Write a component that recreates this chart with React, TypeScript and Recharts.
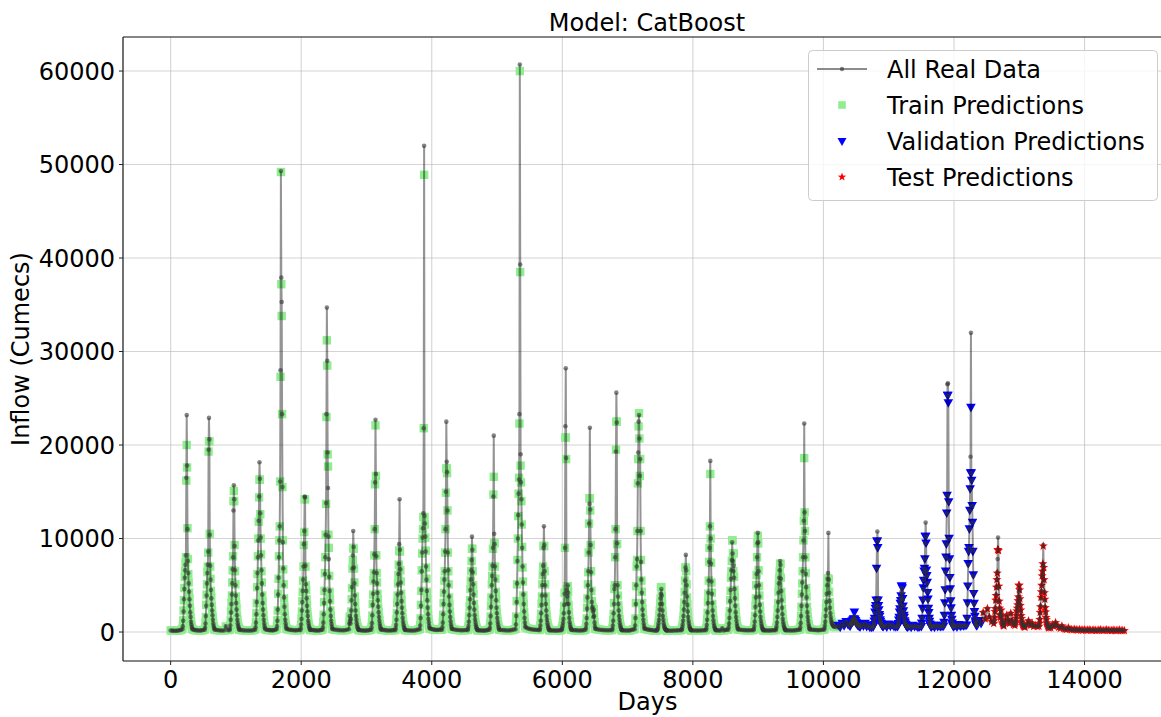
import React from 'react';
import { ScatterChart, Scatter, XAxis, YAxis, CartesianGrid, ReferenceLine, Legend } from 'recharts';

const FONT = '"DejaVu Sans", "Liberation Sans", sans-serif';

// ---------- axes ----------
const xTicks = [0, 2000, 4000, 6000, 8000, 10000, 12000, 14000];
const yTicks = [0, 10000, 20000, 30000, 40000, 50000, 60000];
const X_DOMAIN: [number, number] = [-730, 15340];
const Y_DOMAIN: [number, number] = [-3100, 63640];

const TITLE = 'Model: CatBoost';
const X_LABEL = 'Days';
const Y_LABEL = 'Inflow (Cumecs)';
const legendLabels = ['All Real Data', 'Train Predictions', 'Validation Predictions', 'Test Predictions'];

// ---------- data ----------
const TRAIN_END = 10227;
const VAL_END = 12418;
const LAST_DAY = 14610;
const WET_STEP = 6;

// first day of each flood-season window
const wetStarts = [180, 521, 902, 1295, 1623, 1987, 2327, 2731, 3072, 3441, 3817, 4157, 4550, 4884, 5283, 5652, 5987, 6356, 6762, 7109, 7451, 7826, 8201, 8542, 8929, 9270, 9640, 10010, 10408, 10760, 11136, 11500, 11841, 12194, 12609, 12933, 13302];

// observed inflow in each flood window (every 6 days)
const wetReal: number[][] = [
  [300, 600, 1200, 2200, 3500, 4600, 5800, 6600, 7200, 8200, 16500, 23200, 17800, 11000, 7600, 6300, 5200, 4300, 3500, 2800, 2100, 1600, 1100, 800, 550, 380],
  [250, 450, 900, 1700, 2800, 3900, 5200, 6300, 7200, 8600, 19500, 22900, 20600, 10400, 7100, 5600, 4500, 3600, 2900, 2300, 1800, 1300, 900, 650, 450, 320],
  [200, 350, 700, 1300, 2100, 3000, 4000, 5200, 6700, 8000, 13000, 15700, 14200, 9200, 6600, 5000, 3900, 3100, 2400, 1800, 1300, 950, 700, 500, 350, 250],
  [250, 500, 1000, 1900, 3200, 4700, 6300, 8000, 9800, 11900, 14500, 18150, 16400, 12700, 10100, 8200, 6600, 5200, 4000, 3100, 2400, 1800, 1300, 900, 600, 400],
  [300, 600, 1200, 2400, 4000, 5800, 8000, 9800, 11300, 16100, 28000, 49300, 37900, 35300, 23300, 15500, 9600, 6800, 5000, 3700, 2700, 1900, 1300, 900, 600, 400],
  [200, 400, 800, 1400, 2300, 3200, 4400, 5600, 7000, 9400, 10800, 14500, 14400, 7100, 5100, 4400, 3600, 2800, 2200, 1700, 1200, 900, 650, 450, 320, 220],
  [250, 500, 1000, 1900, 3100, 4500, 6200, 8000, 10400, 13800, 23300, 34700, 29000, 19200, 15400, 10200, 7800, 5900, 4400, 3300, 2400, 1700, 1200, 850, 550, 350],
  [300, 900, 1700, 1200, 900, 1400, 2300, 3400, 4800, 6800, 8200, 10800, 9100, 6900, 5200, 3900, 3000, 2300, 1700, 1300, 950, 700, 500, 380, 280, 220],
  [250, 500, 950, 1800, 2900, 4100, 5400, 6400, 8300, 11000, 16000, 22700, 16900, 8100, 6300, 5200, 4200, 3400, 2700, 2100, 1600, 1200, 850, 600, 400, 280],
  [200, 400, 750, 1300, 2100, 3000, 4000, 5100, 6200, 7300, 9400, 14200, 8800, 6700, 5300, 4200, 3300, 2600, 2000, 1500, 1100, 800, 580, 420, 300, 220],
  [300, 700, 1500, 2800, 4500, 6500, 8500, 10100, 11100, 12700, 21800, 52000, 12400, 11600, 10200, 8600, 7000, 5600, 4400, 3400, 2600, 1900, 1400, 1000, 650, 420],
  [250, 500, 1000, 1900, 3000, 4300, 5600, 6500, 8600, 11000, 15000, 22500, 18200, 17100, 13000, 8500, 6600, 5000, 3800, 2900, 2200, 1600, 1150, 800, 550, 350],
  [200, 350, 650, 1100, 1800, 2600, 3500, 4500, 5600, 6600, 7700, 10200, 8800, 6400, 5100, 4000, 3100, 2400, 1800, 1350, 1000, 720, 520, 380, 280, 210],
  [250, 450, 900, 1700, 2700, 3800, 5000, 6000, 7100, 9000, 14500, 21000, 10500, 9400, 7000, 5600, 4400, 3400, 2600, 2000, 1500, 1100, 800, 550, 380, 270],
  [300, 800, 1700, 3200, 5200, 7600, 10000, 12500, 14800, 16300, 23300, 60700, 39300, 19000, 16000, 14200, 11500, 9000, 7000, 5300, 4000, 3000, 2200, 1500, 1000, 600],
  [200, 350, 700, 1200, 2000, 2900, 3900, 5000, 6200, 7100, 9000, 11300, 9300, 6500, 5000, 3900, 3000, 2300, 1700, 1300, 950, 700, 500, 360, 260, 200],
  [200, 300, 450, 700, 1000, 1400, 2000, 2900, 4100, 9000, 22000, 28200, 18600, 4500, 3000, 3800, 5000, 4200, 3000, 2100, 1500, 1050, 750, 520, 360, 250],
  [250, 450, 850, 1500, 2500, 3700, 5000, 6500, 8500, 11600, 13700, 21850, 13100, 9300, 6400, 4500, 3200, 2500, 2700, 2200, 1600, 2400, 1700, 1000, 600, 380],
  [200, 350, 700, 1200, 2000, 3000, 4600, 5000, 8000, 11000, 19300, 25600, 22400, 9500, 5000, 3800, 3000, 2300, 1700, 1300, 950, 700, 500, 360, 260, 200],
  [300, 700, 1500, 3000, 5000, 7000, 7800, 10800, 15900, 19200, 22500, 23200, 20700, 16700, 18500, 10800, 7500, 5600, 4200, 3200, 2400, 1800, 1300, 900, 600, 380],
  [150, 250, 400, 650, 950, 1300, 1800, 2400, 3000, 3600, 4100, 4600, 3900, 3000, 2300, 1700, 1300, 950, 700, 520, 400, 320, 260, 220, 190, 170],
  [200, 300, 500, 800, 1200, 1700, 2400, 3200, 4200, 5500, 6900, 8250, 6600, 5000, 3800, 2900, 2200, 1600, 1200, 900, 650, 480, 360, 280, 220, 190],
  [200, 400, 750, 1300, 2100, 3100, 4200, 5500, 7500, 9000, 11300, 18300, 10000, 7300, 5400, 4100, 3100, 2300, 1700, 1250, 900, 650, 480, 350, 260, 200],
  [250, 500, 900, 1500, 2300, 3300, 4500, 5700, 6600, 7700, 9600, 8400, 7600, 6500, 7100, 5800, 4600, 3600, 2800, 2100, 1600, 1200, 850, 600, 420, 300],
  [200, 350, 650, 1100, 1800, 2700, 3700, 4900, 6200, 8000, 9500, 10600, 9600, 6500, 5000, 3800, 2900, 2200, 1600, 1200, 880, 650, 480, 350, 260, 200],
  [200, 350, 600, 1000, 1600, 2300, 3200, 4200, 5200, 5800, 6600, 7600, 7200, 5700, 4400, 3400, 2600, 1900, 1400, 1050, 780, 580, 430, 320, 250, 200],
  [250, 500, 950, 1700, 2800, 4000, 5300, 6500, 8000, 9800, 11900, 22300, 12800, 10800, 8000, 6200, 4800, 3700, 2800, 2100, 1600, 1200, 850, 600, 420, 300],
  [250, 400, 700, 1100, 1700, 2400, 3200, 4100, 5000, 5700, 6300, 10600, 5600, 4200, 3300, 2600, 2000, 1600, 1300, 1100, 950, 850, 750, 700, 650, 600],
  [620, 780, 1050, 850, 900, 1200, 1000, 1300, 1100, 1450, 1250, 1700, 1300, 1100, 1250, 950, 1000, 850, 900, 700, 800, 650, 700, 600, 620, 560],
  [500, 600, 800, 1100, 1500, 2000, 2600, 2900, 3400, 6800, 9000, 10750, 9700, 3500, 2800, 2300, 1900, 1600, 1300, 1100, 950, 850, 750, 700, 650, 600],
  [550, 700, 900, 1200, 1600, 2000, 2500, 3000, 3400, 3800, 4300, 4700, 4200, 3500, 2800, 2200, 1800, 1500, 1200, 1000, 850, 750, 680, 620, 580, 550],
  [550, 900, 1500, 2400, 3500, 4600, 5600, 6400, 6800, 7800, 9500, 11700, 10200, 6500, 6000, 5200, 4300, 3400, 2600, 2000, 1500, 1100, 850, 700, 620, 560],
  [600, 1000, 1800, 3000, 4600, 6400, 8000, 9400, 12700, 14600, 26500, 26600, 25300, 13900, 10000, 7700, 5900, 4500, 3400, 2500, 1800, 1300, 950, 750, 650, 580],
  [700, 1500, 3000, 5000, 7200, 8600, 9000, 11000, 13000, 15300, 18750, 32000, 17000, 16200, 13500, 11700, 8700, 6000, 4200, 3000, 2200, 1600, 1200, 950, 800, 700],
  [900, 1200, 1600, 2100, 2600, 3300, 4000, 4800, 5600, 6400, 7800, 10100, 8800, 4800, 3300, 2500, 1900, 1500, 1800, 2300, 1700, 1300, 1000, 850, 750, 700],
  [700, 900, 1100, 1400, 1800, 2200, 2600, 2900, 3300, 3800, 4300, 5000, 4500, 3500, 2900, 2300, 1800, 1400, 1100, 900, 800, 700, 650, 600, 580, 550],
  [600, 900, 1400, 2000, 2800, 3600, 4400, 5000, 6000, 6500, 7300, 9300, 7000, 5500, 4300, 3400, 2700, 2100, 1600, 1300, 1000, 850, 700, 600, 500, 450],
];

// model predictions for the same flood-window days
const wetPred: number[][] = [
  [320, 650, 1250, 2300, 3400, 4700, 5900, 6500, 7400, 8000, 16200, 20000, 17600, 11100, 7800, 6200, 5300, 4200, 3600, 2700, 2200, 1500, 1150, 780, 560, 360],
  [260, 480, 950, 1600, 2900, 4000, 5100, 6400, 7000, 8500, 19300, 20400, 20400, 10500, 7000, 5700, 4400, 3700, 2800, 2300, 1700, 1350, 950, 620, 430, 300],
  [220, 380, 720, 1250, 2200, 3100, 3900, 5300, 6600, 8100, 14000, 15100, 14000, 9300, 6500, 5100, 3800, 3000, 2500, 1700, 1350, 900, 720, 480, 340, 240],
  [270, 520, 1050, 2000, 3100, 4800, 6200, 8100, 10000, 11800, 14400, 16300, 16300, 12600, 10000, 8300, 6500, 5300, 3900, 3200, 2300, 1800, 1250, 880, 620, 380],
  [320, 640, 1250, 2300, 4100, 5700, 8100, 9800, 11300, 16100, 27300, 49200, 37200, 33800, 23300, 15500, 9800, 6700, 5100, 3600, 2700, 1850, 1300, 880, 620, 390],
  [210, 420, 780, 1450, 2200, 3300, 4300, 5500, 7000, 9300, 10700, 14200, 14200, 7000, 5000, 4500, 3500, 2900, 2100, 1650, 1250, 870, 640, 440, 310, 210],
  [260, 520, 1050, 1850, 3200, 4400, 6300, 8000, 10400, 13700, 23000, 31200, 28500, 19000, 17700, 10400, 9000, 6000, 4300, 3400, 2300, 1750, 1150, 830, 560, 340],
  [320, 950, 1650, 1250, 880, 1450, 2200, 3500, 4700, 6800, 7700, 9000, 8900, 6800, 5300, 3800, 3100, 2200, 1750, 1250, 980, 680, 520, 370, 270, 210],
  [260, 520, 980, 1750, 3000, 4000, 5500, 6300, 8200, 11000, 15800, 22100, 16700, 8200, 6300, 5300, 4100, 3500, 2600, 2150, 1550, 1250, 820, 620, 390, 270],
  [210, 420, 730, 1350, 2000, 3100, 3900, 5200, 6100, 7200, 8700, 8700, 8600, 6600, 5400, 4100, 3400, 2500, 2050, 1450, 1120, 780, 590, 410, 290, 210],
  [320, 720, 1450, 2900, 4400, 6600, 8400, 10000, 11000, 12300, 21800, 48900, 12300, 11500, 10100, 8700, 6900, 5700, 4300, 3500, 2500, 1950, 1350, 980, 660, 410],
  [260, 520, 1050, 1850, 3100, 4200, 5500, 6500, 8500, 11000, 14900, 17500, 17500, 17000, 13000, 8500, 6500, 5100, 3700, 2950, 2150, 1650, 1100, 820, 540, 340],
  [210, 370, 630, 1150, 1750, 2700, 3400, 4600, 5500, 6500, 7600, 8900, 8900, 6500, 5000, 4100, 3000, 2450, 1750, 1400, 980, 740, 510, 370, 270, 200],
  [260, 480, 920, 1650, 2800, 3700, 5100, 6000, 7000, 8900, 14700, 16600, 9500, 9500, 7000, 5700, 4300, 3500, 2500, 2050, 1450, 1120, 780, 560, 370, 260],
  [320, 820, 1650, 3300, 5100, 7700, 10000, 12400, 14800, 16500, 22300, 60000, 38500, 17800, 16000, 14000, 11500, 9100, 6900, 5400, 3900, 3050, 2150, 1550, 980, 590],
  [210, 370, 680, 1250, 1950, 3000, 3800, 5100, 6100, 7000, 9200, 9200, 9200, 6500, 5100, 3800, 3100, 2250, 1750, 1250, 970, 680, 510, 350, 250, 190],
  [210, 320, 470, 680, 1050, 1350, 2050, 2800, 4200, 9000, 20800, 20800, 18500, 4600, 3100, 3700, 4900, 4300, 2900, 2150, 1450, 1080, 730, 530, 350, 240],
  [260, 470, 870, 1450, 2600, 3600, 5100, 6400, 8500, 11600, 14300, 14300, 13000, 9300, 6500, 4400, 3300, 2450, 2650, 2250, 1550, 2450, 1650, 1050, 590, 370],
  [210, 370, 680, 1250, 1950, 3100, 4600, 5000, 8000, 11000, 19500, 22500, 22500, 9400, 5000, 3900, 2900, 2350, 1650, 1350, 930, 720, 490, 350, 250, 190],
  [310, 720, 1450, 3100, 4900, 7000, 7700, 10800, 15900, 18500, 22000, 23400, 20700, 16700, 18500, 10800, 7700, 5500, 4300, 3100, 2450, 1750, 1320, 880, 610, 370],
  [160, 260, 410, 640, 970, 1280, 1850, 2350, 3050, 3600, 4800, 4800, 3900, 3050, 2250, 1750, 1250, 970, 690, 530, 390, 320, 250, 220, 180, 160],
  [210, 310, 510, 780, 1250, 1650, 2450, 3150, 4300, 5500, 6900, 6900, 6500, 5100, 3700, 2950, 2150, 1650, 1180, 920, 640, 490, 350, 270, 210, 180],
  [210, 420, 730, 1350, 2050, 3200, 4100, 5500, 7500, 9000, 11300, 16900, 10000, 7400, 5300, 4200, 3000, 2350, 1650, 1300, 880, 660, 470, 340, 250, 190],
  [260, 520, 880, 1550, 2250, 3400, 4400, 5800, 6500, 7600, 9800, 9800, 8400, 6500, 8400, 5900, 4500, 3700, 2700, 2150, 1550, 1220, 830, 610, 410, 290],
  [210, 370, 630, 1150, 1750, 2800, 3600, 5000, 6100, 8000, 9500, 10300, 9500, 6600, 4900, 3900, 2800, 2250, 1550, 1250, 860, 660, 470, 340, 250, 190],
  [210, 370, 590, 1050, 1550, 2400, 3100, 4300, 5100, 5800, 6500, 7300, 7300, 5800, 4300, 3500, 2500, 1950, 1380, 1070, 760, 590, 420, 310, 240, 190],
  [260, 520, 930, 1750, 2700, 4100, 5200, 6500, 8000, 9800, 11900, 18600, 12800, 10800, 8000, 6300, 4700, 3800, 2700, 2150, 1550, 1230, 830, 610, 410, 290],
  [260, 420, 680, 1150, 1650, 2500, 3100, 4200, 5000, 5700, 5700, 5700, 5600, 4300, 3200, 2650, 1950, 1650, 1250, 1120, 930, 870, 740, 710, 640, 590],
  [600, 800, 1000, 900, 950, 1150, 1050, 1250, 1150, 1400, 1300, 2100, 1350, 1150, 1200, 1000, 950, 880, 870, 720, 780, 680, 690, 610, 600, 570],
  [520, 620, 780, 1150, 1450, 2100, 2500, 2800, 3400, 6800, 9700, 9700, 9000, 3400, 2800, 2350, 1850, 1650, 1280, 1120, 930, 870, 740, 710, 640, 590],
  [560, 720, 880, 1250, 1550, 2100, 2450, 3050, 3350, 3850, 4900, 4900, 4700, 3550, 2750, 2250, 1750, 1550, 1180, 1020, 830, 770, 670, 630, 570, 540],
  [560, 920, 1450, 2500, 3400, 4700, 5500, 6500, 6800, 7800, 10200, 10200, 9500, 6600, 6000, 5300, 4200, 3500, 2500, 2050, 1450, 1130, 830, 710, 610, 550],
  [610, 1020, 1750, 3100, 4500, 6500, 8000, 9400, 12700, 14600, 25300, 25300, 24500, 13900, 10000, 7800, 5800, 4600, 3300, 2550, 1750, 1320, 930, 760, 640, 570],
  [720, 1450, 3100, 4900, 7300, 8600, 9000, 11000, 13000, 15300, 17000, 24000, 17000, 16200, 13500, 11700, 8600, 6100, 4100, 3050, 2150, 1650, 1180, 960, 790, 690],
  [920, 1250, 1550, 2200, 2500, 3400, 3900, 4800, 5600, 6300, 8800, 8800, 8700, 4900, 3300, 2550, 1850, 1550, 1750, 2350, 1650, 1320, 980, 860, 740, 690],
  [710, 920, 1080, 1450, 1750, 2250, 2550, 2900, 3350, 3750, 5000, 5000, 4500, 3550, 2850, 2350, 1750, 1450, 1080, 920, 780, 710, 640, 610, 570, 540],
  [610, 920, 1350, 2100, 2700, 3700, 4300, 5000, 6000, 6500, 7300, 9200, 6900, 5600, 4200, 3500, 2600, 2150, 1550, 1320, 980, 860, 690, 610, 490, 440],
];

// low-flow values between flood windows (before each window)
const dryFlows: number[][] = [
  [170, 150, 140, 130, 140, 160, 190, 230],
  [280, 230, 200, 180, 170, 160, 180, 210],
  [250, 210, 190, 170, 160, 170, 600, 200],
  [230, 200, 180, 170, 160, 150, 170, 200],
  [300, 250, 220, 200, 190, 180, 200, 240],
  [320, 270, 230, 210, 190, 180, 190, 210],
  [250, 220, 200, 180, 170, 160, 180, 220],
  [300, 260, 230, 200, 190, 180, 190, 240],
  [210, 190, 170, 160, 150, 160, 180, 220],
  [260, 230, 200, 180, 170, 160, 180, 200],
  [210, 190, 170, 160, 150, 170, 200, 260],
  [380, 320, 280, 250, 230, 220, 240, 260],
  [320, 270, 230, 210, 190, 180, 190, 210],
  [200, 180, 170, 160, 150, 160, 180, 230],
  [250, 220, 200, 180, 170, 180, 200, 260],
  [500, 400, 340, 300, 270, 250, 240, 220],
  [200, 180, 170, 160, 150, 160, 170, 190],
  [230, 200, 190, 180, 170, 160, 180, 190],
  [330, 280, 250, 220, 200, 190, 180, 190],
  [190, 180, 170, 160, 170, 180, 220, 280],
  [360, 300, 260, 230, 210, 190, 170, 150],
  [160, 150, 140, 150, 160, 170, 180, 190],
  [180, 170, 160, 150, 160, 170, 180, 190],
  [190, 180, 170, 160, 400, 170, 220, 240],
  [280, 250, 220, 200, 190, 180, 190, 190],
  [190, 180, 170, 160, 170, 180, 190, 190],
  [190, 180, 170, 160, 170, 180, 200, 240],
  [280, 250, 230, 210, 200, 190, 210, 240],
  [560, 520, 700, 480, 900, 650, 1100, 750],
  [540, 800, 620, 900, 560, 700, 480, 500],
  [560, 700, 520, 820, 600, 750, 580, 540],
  [520, 640, 480, 700, 560, 620, 500, 540],
  [540, 650, 500, 720, 580, 620, 560, 590],
  [560, 700, 520, 760, 600, 680, 650, 680],
  [650, 1200, 900, 2100, 1400, 2500, 1600, 1100],
  [650, 1100, 1800, 1300, 900, 2000, 1200, 800],
  [520, 800, 1200, 700, 950, 600, 700, 580],
];

// low flows after the last flood window up to the final day
const tailFlows = [520, 450, 800, 600, 1000, 700, 500, 400, 650, 380, 300, 280, 450, 300, 260, 240, 300, 230, 220, 260, 210, 200, 250, 190, 200, 230, 190, 180, 220, 180, 170, 200, 250, 180, 170, 190, 230, 180, 170, 160, 210, 170, 160, 180, 200, 160, 150, 150];

// ---------- build point tables ----------
type Pt = { day: number; flow: number };
const realData: Pt[] = [];
const trainData: Pt[] = [];
const valData: Pt[] = [];
const testData: Pt[] = [];

function addPoint(day: number, flow: number, pred: number) {
  realData.push({ day, flow });
  const p = { day, flow: pred };
  if (day < TRAIN_END) trainData.push(p);
  else if (day < VAL_END) valData.push(p);
  else testData.push(p);
}

let prevEnd = 0;
wetStarts.forEach((start, k) => {
  const dry = dryFlows[k] || [];
  const n = dry.length;
  dry.forEach((v, j) => {
    const day = Math.round(prevEnd + (j * (start - prevEnd)) / n);
    addPoint(day, v, v);
  });
  const wet = wetReal[k];
  const pred = wetPred[k] || [];
  wet.forEach((v, j) => {
    addPoint(start + j * WET_STEP, v, pred[j] ?? v);
  });
  prevEnd = start + wet.length * WET_STEP;
});
tailFlows.forEach((v, j) => {
  const day = Math.round(prevEnd + (j * (LAST_DAY - prevEnd)) / (tailFlows.length - 1));
  addPoint(day, v, v);
});

// ---------- marker shapes ----------
const GREEN = '#90ee90';
const BLUE = '#0000ff';
const RED = '#ff0000';
const SQ = 8.4;

const starPath = (cx: number, cy: number, R: number, r: number) => {
  let d = '';
  for (let i = 0; i < 10; i++) {
    const rad = i % 2 === 0 ? R : r;
    const a = -Math.PI / 2 + (i * Math.PI) / 5;
    d += (i ? 'L' : 'M') + (cx + rad * Math.cos(a)).toFixed(2) + ',' + (cy + rad * Math.sin(a)).toFixed(2);
  }
  return d + 'Z';
};

const SquareShape = (props: any) => {
  const { cx, cy } = props;
  if (cx == null || cy == null) return <g />;
  return <rect x={cx - SQ / 2} y={cy - SQ / 2} width={SQ} height={SQ} fill={GREEN} />;
};
const TriShape = (props: any) => {
  const { cx, cy } = props;
  if (cx == null || cy == null) return <g />;
  return <polygon points={`${cx - 4.8},${cy - 3.8} ${cx + 4.8},${cy - 3.8} ${cx},${cy + 4.8}`} fill={BLUE} />;
};
const StarShape = (props: any) => {
  const { cx, cy } = props;
  if (cx == null || cy == null) return <g />;
  return <path d={starPath(cx, cy, 4.8, 2.0)} fill={RED} />;
};
const DotShape = (props: any) => {
  const { cx, cy } = props;
  if (cx == null || cy == null) return <g />;
  return <circle cx={cx} cy={cy} r={2.3} fill="#333333" fillOpacity={0.6} />;
};

// ---------- ticks ----------
const TICK_FONT = 24;
const XTick = (props: any) => {
  const { x, y, payload } = props;
  return (
    <text x={x} y={y} dy="0.71em" textAnchor="middle" fontSize={TICK_FONT} fontFamily={FONT} fill="#000">
      {payload.value}
    </text>
  );
};
const YTick = (props: any) => {
  const { x, y, payload } = props;
  return (
    <text x={x} y={y} dy="0.355em" textAnchor="end" fontSize={TICK_FONT} fontFamily={FONT} fill="#000">
      {payload.value}
    </text>
  );
};

// ---------- legend ----------
const renderLegend = () => {
  const rows = [19, 55, 91.5, 127];
  const ix = 34;
  return (
    <svg width={351} height={152} style={{ display: 'block', overflow: 'visible' }}>
      <rect x={0.5} y={0.5} width={349} height={150} rx={4} ry={4} fill="#fff" fillOpacity={0.8} stroke="#cccccc" strokeWidth={1} />
      <line x1={9} x2={59} y1={rows[0]} y2={rows[0]} stroke="#000" strokeOpacity={0.45} strokeWidth={1.8} />
      <circle cx={ix} cy={rows[0]} r={2.2} fill="#333333" fillOpacity={0.6} />
      <rect x={ix - 3.8} y={rows[1] - 3.8} width={7.6} height={7.6} fill={GREEN} />
      <polygon points={`${ix - 4.5},${rows[2] - 3.6} ${ix + 4.5},${rows[2] - 3.6} ${ix},${rows[2] + 4.4}`} fill={BLUE} />
      <path d={starPath(ix, rows[3], 4.4, 1.8)} fill={RED} />
      {legendLabels.map((t, i) => (
        <text key={t} x={79} y={rows[i]} dy="0.36em" fontSize={24} fontFamily={FONT} fill="#000">
          {t}
        </text>
      ))}
    </svg>
  );
};

export default function App() {
  return (
    <div
      style={{
        position: 'absolute',
        left: 0,
        top: 0,
        width: 1161,
        height: 717,
        overflow: 'hidden',
        background: '#fff',
        fontFamily: FONT,
      }}
    >
      <div
        style={{
          position: 'absolute',
          left: 347,
          top: 11,
          width: 600,
          textAlign: 'center',
          fontSize: 24,
          lineHeight: '24px',
          fontFamily: FONT,
          color: '#000',
          zIndex: 2,
        }}
      >
        {TITLE}
      </div>
      <ScatterChart width={1172} height={717} margin={{ top: 37, right: 0, bottom: 0, left: 0 }}>
        <CartesianGrid stroke="#b0b0b0" strokeOpacity={0.55} strokeWidth={1.1} />
        <XAxis
          type="number"
          dataKey="day"
          domain={X_DOMAIN}
          allowDataOverflow
          ticks={xTicks}
          interval={0}
          height={56}
          tickSize={4}
          tickMargin={6}
          tick={<XTick />}
          axisLine={{ stroke: '#222', strokeWidth: 1.2 }}
          tickLine={{ stroke: '#222', strokeWidth: 1 }}
          label={{ value: X_LABEL, position: 'insideBottom', offset: 7, fontSize: 24, fontFamily: FONT, fill: '#000' }}
        />
        <YAxis
          type="number"
          dataKey="flow"
          domain={Y_DOMAIN}
          allowDataOverflow
          ticks={yTicks}
          interval={0}
          width={123}
          tickSize={4}
          tickMargin={4}
          tick={<YTick />}
          axisLine={{ stroke: '#222', strokeWidth: 1.2 }}
          tickLine={{ stroke: '#222', strokeWidth: 1 }}
          label={{
            value: Y_LABEL,
            angle: -90,
            position: 'insideLeft',
            offset: 20,
            fontSize: 24,
            fontFamily: FONT,
            fill: '#000',
            style: { textAnchor: 'middle' },
          }}
        />
        <ReferenceLine y={Y_DOMAIN[1]} stroke="#222" strokeWidth={1.2} />
        <Scatter name={legendLabels[1]} data={trainData} shape={SquareShape} isAnimationActive={false} />
        <Scatter name={legendLabels[2]} data={valData} shape={TriShape} isAnimationActive={false} />
        <Scatter name={legendLabels[3]} data={testData} shape={StarShape} isAnimationActive={false} />
        <Scatter
          name={legendLabels[0]}
          data={realData}
          shape={DotShape}
          line={{ stroke: '#000', strokeOpacity: 0.42, strokeWidth: 2 }}
          lineType="joint"
          isAnimationActive={false}
        />
        <Legend
          layout="vertical"
          align="center"
          verticalAlign="middle"
          content={renderLegend}
          wrapperStyle={{ left: 808, top: 50, width: 351, height: 152 }}
        />
      </ScatterChart>
    </div>
  );
}
